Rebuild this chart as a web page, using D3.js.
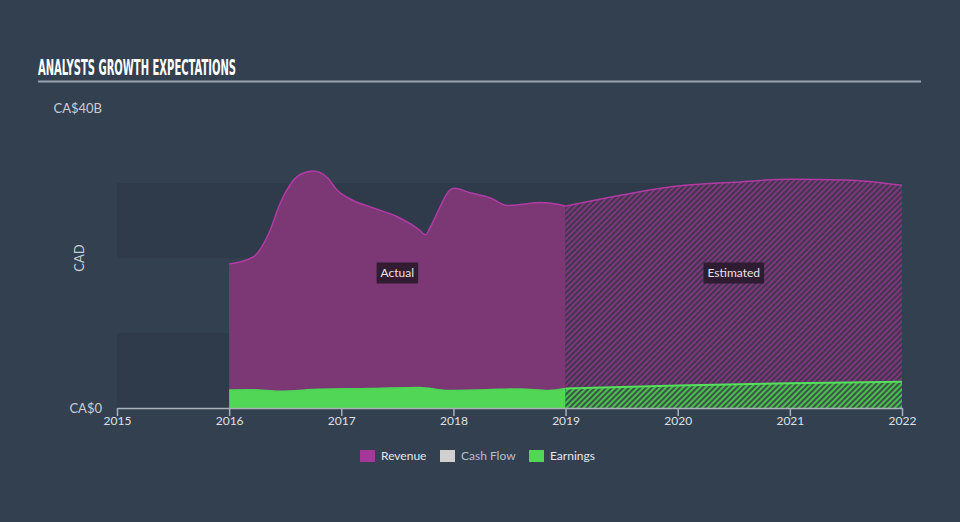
<!DOCTYPE html>
<html>
<head>
<meta charset="utf-8">
<script src="https://cdn.jsdelivr.net/npm/d3@7"></script>
<style>
  body { margin: 0; background: #334050; }
  text { font-family: Lato, "Open Sans", sans-serif; }
</style>
</head>
<body>
<div id="chart"></div>
<script>
// revenue, actual (CA$ billions)
var revYears = [2016.0, 2016.21, 2016.36, 2016.45, 2016.63, 2016.75, 2016.87, 2016.96, 2017.1, 2017.28, 2017.5, 2017.7, 2017.75, 2017.79, 2017.88, 2017.97, 2018.01, 2018.15, 2018.33, 2018.48, 2018.64, 2018.77, 2018.95, 2019.0];
var revValues = [19.2, 20.1, 23.5, 27.1, 31.1, 31.6, 30.8, 29.1, 27.7, 26.7, 25.5, 23.7, 23.1, 24.0, 26.8, 29.1, 29.3, 28.7, 28.0, 27.0, 27.2, 27.4, 27.1, 26.9];
// revenue, estimated
var revEstYears = [2019.0, 2019.5, 2020.0, 2020.5, 2021.0, 2021.5, 2022.0];
var revEstValues = [26.9, 28.4, 29.6, 30.1, 30.5, 30.4, 29.7];
// earnings, actual
var earnYears = [2016.0, 2016.2, 2016.45, 2016.8, 2017.25, 2017.7, 2017.95, 2018.3, 2018.6, 2018.85, 2019.0];
var earnValues = [2.4, 2.45, 2.25, 2.5, 2.6, 2.75, 2.35, 2.45, 2.55, 2.35, 2.6];
// earnings, estimated
var earnEstYears = [2019.0, 2020.0, 2021.0, 2022.0];
var earnEstValues = [2.6, 3.0, 3.3, 3.5];

var xTicks = [2015, 2016, 2017, 2018, 2019, 2020, 2021, 2022];
var yTicks = [0, 40];
var bands = [[0, 10], [20, 30]];
var legendItems = ["Revenue", "Cash Flow", "Earnings"];
var legendColors = ["#a6379a", "#d0d0d0", "#51d656"];

var width = 960, height = 522;

var svg = d3.select("#chart")
  .append("svg")
  .attr("width", width)
  .attr("height", height);

var x = d3.scaleLinear().domain([2015, 2022]).range([117, 902]);
var y = d3.scaleLinear().domain([0, 40]).range([408, 108]);

// hatching patterns for the estimate
var defs = svg.append("defs");
function hatch(id, bg, fg) {
  var p = defs.append("pattern")
    .attr("id", id)
    .attr("patternUnits", "userSpaceOnUse")
    .attr("width", 4)
    .attr("height", 4)
    .attr("patternTransform", "rotate(45)");
  p.append("rect").attr("width", 4).attr("height", 4).attr("fill", bg);
  p.append("rect").attr("width", 2).attr("height", 4).attr("fill", fg);
}
hatch("hatchRev", "#433450", "#7d377b");
hatch("hatchEarn", "#3a5646", "#4cbe4f");

// title
svg.append("text")
  .attr("x", 38)
  .attr("y", 75)
  .attr("fill", "#ffffff")
  .style("font-family", "'Liberation Sans Narrow', 'DejaVu Sans Condensed', sans-serif")
  .style("font-weight", "bold")
  .style("font-size", "21px")
  .attr("textLength", 198)
  .attr("lengthAdjust", "spacingAndGlyphs")
  .text("ANALYSTS GROWTH EXPECTATIONS");

svg.append("line")
  .attr("x1", 38).attr("x2", 921)
  .attr("y1", 81.5).attr("y2", 81.5)
  .attr("stroke", "#9aa3ad")
  .attr("stroke-width", 2);

// background bands
svg.selectAll(".band")
  .data(bands)
  .enter()
  .append("rect")
  .attr("class", "band")
  .attr("x", x(2015))
  .attr("width", x(2022) - x(2015))
  .attr("y", function(d) { return y(d[1]); })
  .attr("height", function(d) { return y(d[0]) - y(d[1]); })
  .attr("fill", "#2f3b4a");

function zip(xs, vs) {
  return xs.map(function(t, i) { return {t: t, v: vs[i]}; });
}

var area = d3.area()
  .x(function(d) { return x(d.t); })
  .y0(y(0))
  .y1(function(d) { return y(d.v); })
  .curve(d3.curveMonotoneX);

var line = d3.line()
  .x(function(d) { return x(d.t); })
  .y(function(d) { return y(d.v); })
  .curve(d3.curveMonotoneX);

var rev = zip(revYears, revValues);
var revEst = zip(revEstYears, revEstValues);
var earn = zip(earnYears, earnValues);
var earnEst = zip(earnEstYears, earnEstValues);

// revenue
svg.append("path").attr("d", area(rev)).attr("fill", "#7b3875");
svg.append("path").attr("d", area(revEst)).attr("fill", "url(#hatchRev)");
svg.append("path").attr("d", line(rev)).attr("fill", "none").attr("stroke", "#b23ba3").attr("stroke-width", 1.5);
svg.append("path").attr("d", line(revEst)).attr("fill", "none").attr("stroke", "#b23ba3").attr("stroke-width", 1.5);

// earnings
svg.append("path").attr("d", area(earn)).attr("fill", "#51d656");
svg.append("path").attr("d", area(earnEst)).attr("fill", "url(#hatchEarn)");
svg.append("path").attr("d", line(earn)).attr("fill", "none").attr("stroke", "#4cd456").attr("stroke-width", 1.5);
svg.append("path").attr("d", line(earnEst)).attr("fill", "none").attr("stroke", "#55e05c").attr("stroke-width", 2);

// x axis
var xAxis = svg.append("g")
  .attr("transform", "translate(0," + y(0) + ")")
  .call(d3.axisBottom(x).tickValues(xTicks).tickFormat(d3.format("d")).tickSize(8).tickSizeOuter(0));
xAxis.select(".domain").attr("stroke", "#a8b0ba").attr("stroke-width", 1.5);
xAxis.selectAll(".tick line").attr("stroke", "#a8b0ba").attr("stroke-width", 1.5);
xAxis.selectAll(".tick text")
  .attr("fill", "#dde1e6")
  .attr("dy", "0.35em")
  .attr("y", 13)
  .style("font-size", "12px")
  .style("font-family", "Lato, sans-serif");

// y axis labels
var yAxis = svg.append("g")
  .attr("transform", "translate(" + x(2015) + ",0)")
  .call(d3.axisLeft(y).tickValues(yTicks).tickSize(0).tickPadding(15)
    .tickFormat(function(d) { return d === 0 ? "CA$0" : "CA$" + d + "B"; }));
yAxis.select(".domain").remove();
yAxis.selectAll(".tick text")
  .attr("fill", "#c9ced4")
  .style("font-size", "13px")
  .style("font-family", "Lato, sans-serif");

svg.append("text")
  .attr("transform", "translate(84,258) rotate(-90)")
  .attr("text-anchor", "middle")
  .attr("fill", "#c9ced4")
  .style("font-size", "13px")
  .text("CAD");

// Actual / Estimated tags
var tags = [{label: "Actual", t0: 2016, t1: 2019}, {label: "Estimated", t0: 2019, t1: 2022}];
var tag = svg.selectAll(".tag")
  .data(tags)
  .enter()
  .append("g")
  .attr("class", "tag")
  .attr("transform", function(d) { return "translate(" + (x(d.t0) + x(d.t1)) / 2 + ",273)"; });
tag.append("text")
  .attr("text-anchor", "middle")
  .attr("dy", "0.35em")
  .attr("fill", "#e8e2ea")
  .style("font-size", "12px")
  .text(function(d) { return d.label; })
  .each(function() {
    var b = this.getBBox();
    d3.select(this.parentNode).insert("rect", "text")
      .attr("x", b.x - 4)
      .attr("y", -10.5)
      .attr("width", b.width + 8)
      .attr("height", 21)
      .attr("fill", "#2a1a2c")
      .attr("fill-opacity", 0.92);
  });

// legend
var legendX = [360, 440, 529];
var leg = svg.selectAll(".legend")
  .data(legendItems)
  .enter()
  .append("g")
  .attr("class", "legend")
  .attr("transform", function(d, i) { return "translate(" + legendX[i] + ",450)"; });
leg.append("rect")
  .attr("width", 15)
  .attr("height", 12)
  .attr("fill", function(d, i) { return legendColors[i]; });
leg.append("text")
  .attr("x", 21)
  .attr("y", 6)
  .attr("dy", "0.35em")
  .attr("fill", function(d, i) { return i === 1 ? "#b8bec6" : "#e3e6ea"; })
  .style("font-size", "12px")
  .text(function(d) { return d; });
</script>
</body>
</html>
